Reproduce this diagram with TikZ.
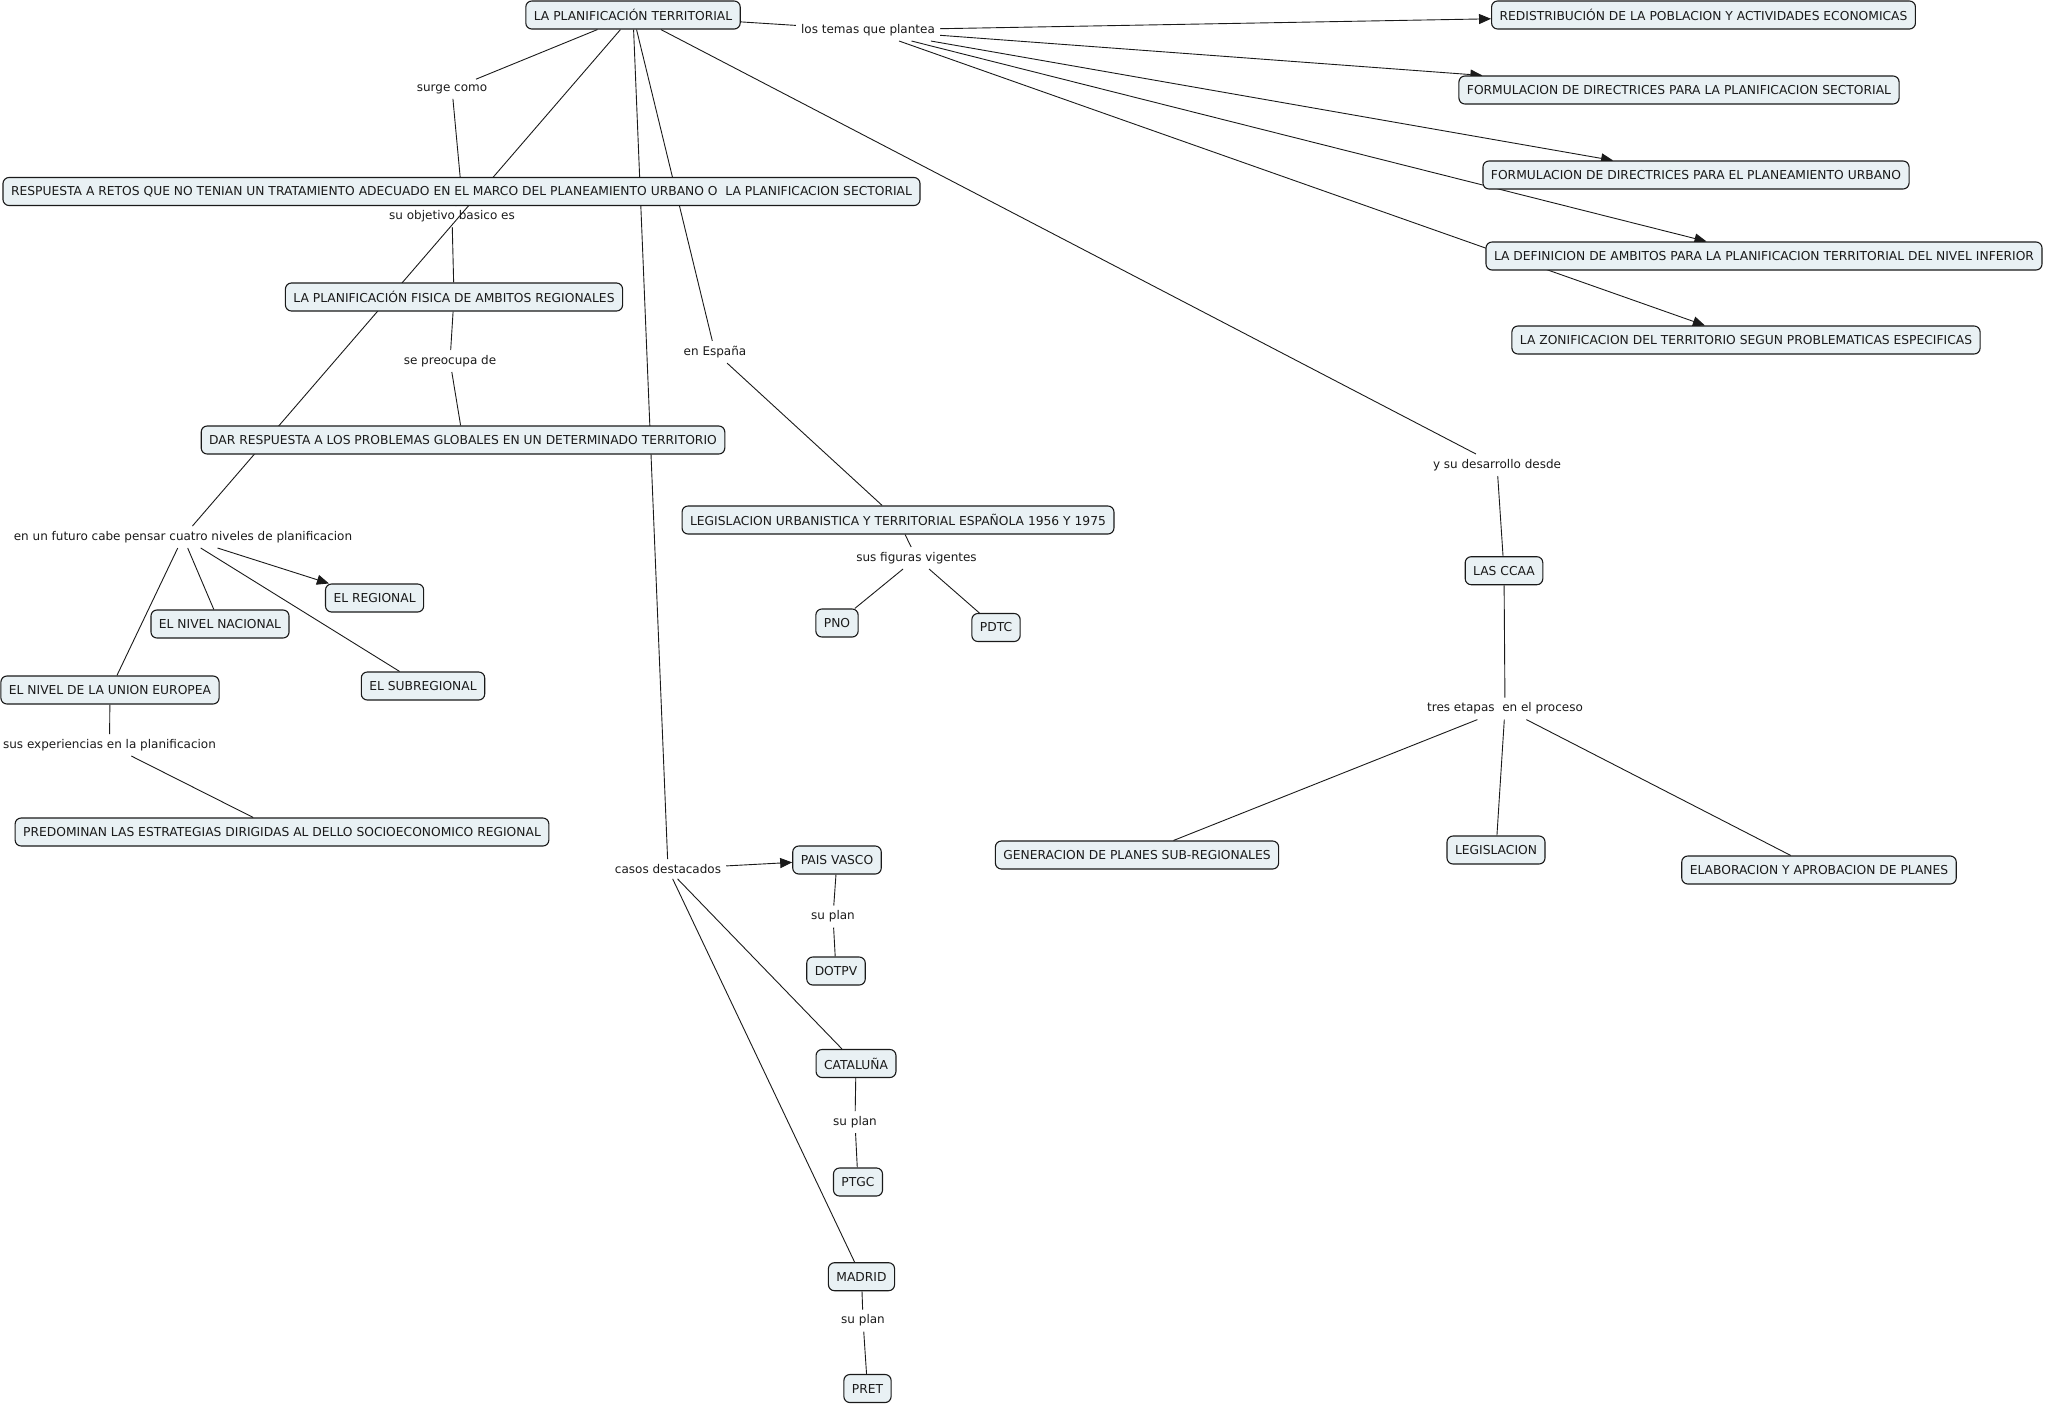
\documentclass[tikz,border=0pt]{standalone}
\usepackage{fontspec}
\setmainfont{DejaVu Sans}
\usetikzlibrary{arrows.meta,backgrounds}
\definecolor{boxfill}{HTML}{E9F1F4}
\definecolor{ink}{HTML}{1A1A1A}
\tikzset{
  concept/.style={draw=ink, fill=boxfill, rounded corners=6pt, line width=1.1pt,
    inner xsep=8pt, minimum height=28pt, text=ink, font=\fontsize{12.3}{14}\selectfont},
  lnk/.style={inner sep=5pt, text=ink, font=\fontsize{12}{14}\selectfont},
  conn/.style={draw=ink, line width=0.9pt},
  arr/.style={conn, -{Triangle[length=12pt,width=10pt]}}
}
\begin{document}
\begin{tikzpicture}[x=1pt,y=-1pt]
\useasboundingbox (0,0) rectangle (2050,1403);
% concepts
\node[concept] (T) at (633,15) {LA PLANIFICACIÓN TERRITORIAL};
\node[concept] (R1) at (1703.5,15) {REDISTRIBUCIÓN DE LA POBLACION Y ACTIVIDADES ECONOMICAS};
\node[concept] (R2) at (1679,90) {FORMULACION DE DIRECTRICES PARA LA PLANIFICACION SECTORIAL};
\node[concept] (R3) at (1696,175) {FORMULACION DE DIRECTRICES PARA EL PLANEAMIENTO URBANO};
\node[concept] (R4) at (1764,256) {LA DEFINICION DE AMBITOS PARA LA PLANIFICACION TERRITORIAL DEL NIVEL INFERIOR};
\node[concept] (R5) at (1746,340) {LA ZONIFICACION DEL TERRITORIO SEGUN PROBLEMATICAS ESPECIFICAS};
\node[concept] (RR) at (461.5,191.5) {RESPUESTA A RETOS QUE NO TENIAN UN TRATAMIENTO ADECUADO EN EL MARCO DEL PLANEAMIENTO URBANO O\ \ LA PLANIFICACION SECTORIAL};
\node[concept] (PF) at (454,297) {LA PLANIFICACIÓN FISICA DE AMBITOS REGIONALES};
\node[concept] (DR) at (463,440) {DAR RESPUESTA A LOS PROBLEMAS GLOBALES EN UN DETERMINADO TERRITORIO};
\node[concept] (ER) at (374.6,598) {EL REGIONAL};
\node[concept] (EN) at (220,624) {EL NIVEL NACIONAL};
\node[concept] (ES) at (423,686) {EL SUBREGIONAL};
\node[concept] (EU) at (110,690) {EL NIVEL DE LA UNION EUROPEA};
\node[concept] (PR) at (282,832) {PREDOMINAN LAS ESTRATEGIAS DIRIGIDAS AL DELLO SOCIOECONOMICO REGIONAL};
\node[concept] (LU) at (898,520) {LEGISLACION URBANISTICA Y TERRITORIAL ESPAÑOLA 1956 Y 1975};
\node[concept] (PNO) at (837,623) {PNO};
\node[concept] (PDTC) at (996,627.5) {PDTC};
\node[concept] (PV) at (837,860) {PAIS VASCO};
\node[concept] (DOTPV) at (836,971) {DOTPV};
\node[concept] (CAT) at (856,1063.5) {CATALUÑA};
\node[concept] (PTGC) at (858,1182) {PTGC};
\node[concept] (MAD) at (861.5,1276.7) {MADRID};
\node[concept] (PRET) at (867.5,1388.5) {PRET};
\node[concept] (CCAA) at (1504,570.7) {LAS CCAA};
\node[concept] (GEN) at (1137,855) {GENERACION DE PLANES SUB-REGIONALES};
\node[concept] (LEG) at (1496,850) {LEGISLACION};
\node[concept] (ELA) at (1819,870) {ELABORACION Y APROBACION DE PLANES};
% linking phrases
\node[lnk] (l1) at (868,30) {los temas que plantea};
\node[lnk] (l2) at (452,89) {surge como};
\node[lnk] (l3) at (452,216) {su objetivo basico es};
\node[lnk] (l4) at (450,361) {se preocupa de};
\node[lnk] (l5) at (183,537) {en un futuro cabe pensar cuatro niveles de planificacion};
\node[lnk] (l6) at (109.5,745) {sus experiencias en la planificacion};
\node[lnk] (l7) at (715,352) {en España};
\node[lnk] (l8) at (916.5,558) {sus figuras vigentes};
\node[lnk] (l9) at (668,869) {casos destacados};
\node[lnk] (l10) at (833,916.5) {su plan};
\node[lnk] (l11) at (855,1122) {su plan};
\node[lnk] (l12) at (863,1320.5) {su plan};
\node[lnk] (l13) at (1497,465) {y su desarrollo desde};
\node[lnk] (l14) at (1505,708.6) {tres etapas\ \ en el proceso};
% connectors
\begin{scope}[on background layer]
\draw[conn] (T) -- (l1);
\draw[arr] (l1) -- (R1);
\draw[arr] (l1) -- (R2);
\draw[arr] (l1) -- (R3);
\draw[arr] (l1) -- (R4);
\draw[arr] (l1) -- (R5);
\draw[conn] (T) -- (l2);
\draw[conn] (l2) -- (RR);
\draw[conn] (RR) -- (l3);
\draw[conn] (l3) -- (PF);
\draw[conn] (PF) -- (l4);
\draw[conn] (l4) -- (DR);
\draw[conn] (T) -- (l5);
\draw[arr] (l5) -- (ER);
\draw[conn] (l5) -- (EN);
\draw[conn] (l5) -- (ES);
\draw[conn] (l5) -- (EU);
\draw[conn] (EU) -- (l6);
\draw[conn] (l6) -- (PR);
\draw[conn] (T) -- (l7);
\draw[conn] (l7) -- (LU);
\draw[conn] (LU) -- (l8);
\draw[conn] (l8) -- (PNO);
\draw[conn] (l8) -- (PDTC);
\draw[conn] (T) -- (l9);
\draw[arr] (l9) -- (PV);
\draw[conn] (l9) -- (CAT);
\draw[conn] (l9) -- (MAD);
\draw[conn] (PV) -- (l10);
\draw[conn] (l10) -- (DOTPV);
\draw[conn] (CAT) -- (l11);
\draw[conn] (l11) -- (PTGC);
\draw[conn] (MAD) -- (l12);
\draw[conn] (l12) -- (PRET);
\draw[conn] (T) -- (l13);
\draw[conn] (l13) -- (CCAA);
\draw[conn] (CCAA) -- (l14);
\draw[conn] (l14) -- (GEN);
\draw[conn] (l14) -- (LEG);
\draw[conn] (l14) -- (ELA);
\end{scope}
\end{tikzpicture}
\end{document}
